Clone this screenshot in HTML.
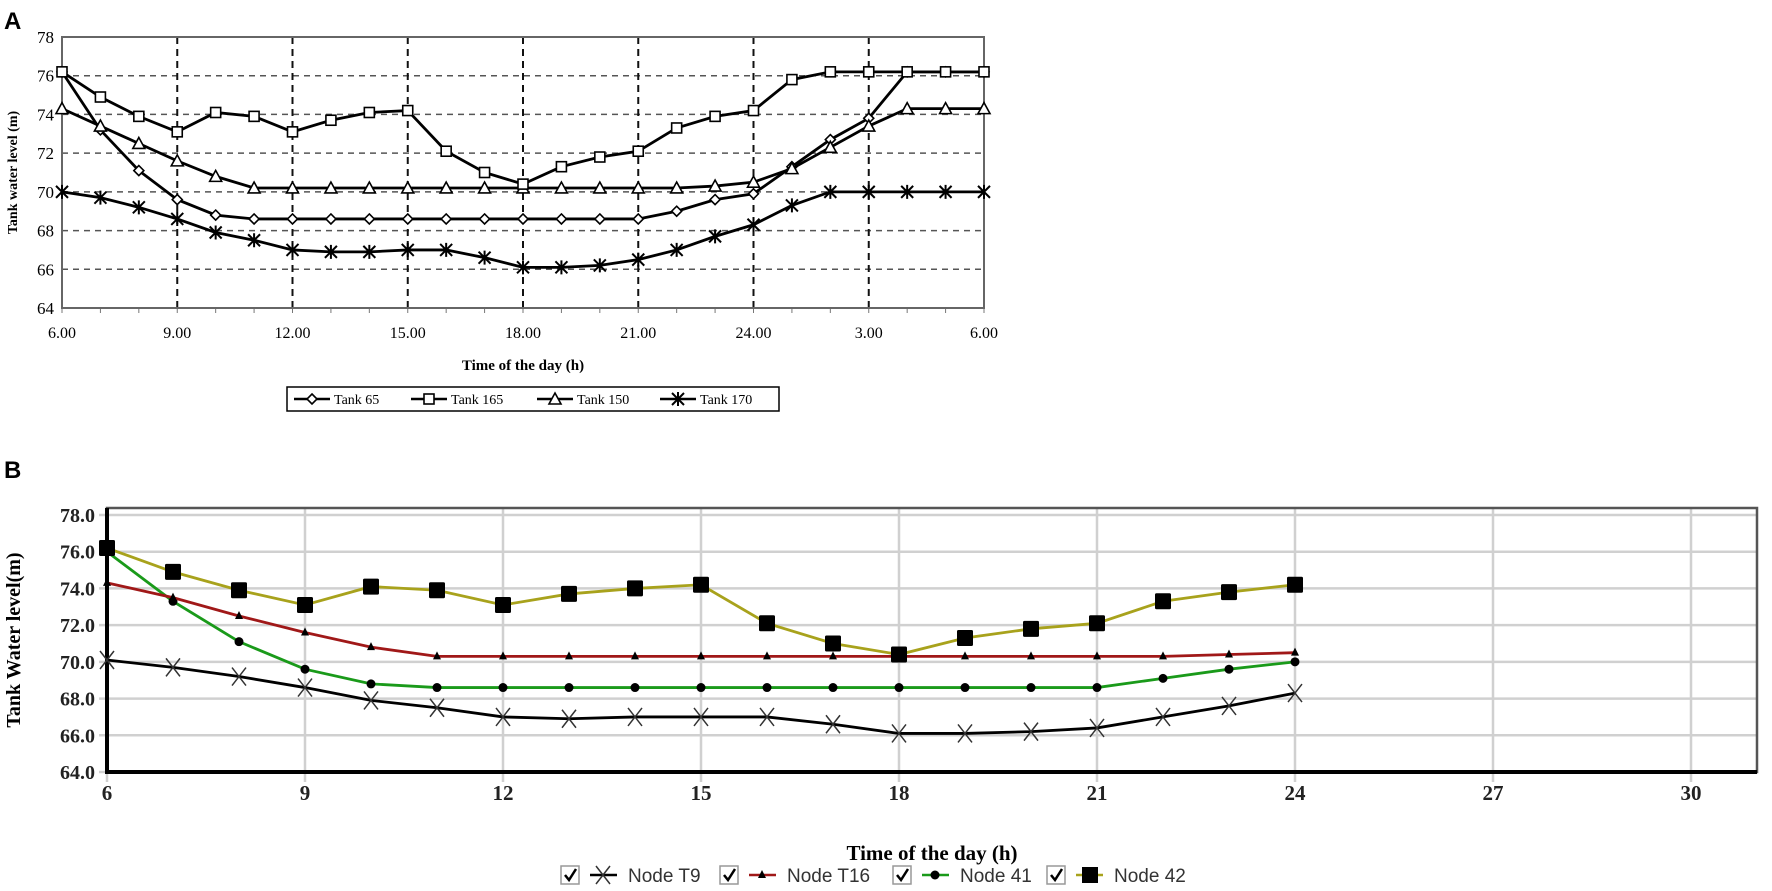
<!DOCTYPE html>
<html><head><meta charset="utf-8"><style>
html,body{margin:0;padding:0;background:#fff;}
svg{display:block;}
</style></head><body>
<svg id="root" width="1772" height="891" viewBox="0 0 1772 891" xmlns="http://www.w3.org/2000/svg">
<text x="4" y="29" font-family="Liberation Sans, sans-serif" font-weight="bold" font-size="24">A</text>
<text x="4" y="478" font-family="Liberation Sans, sans-serif" font-weight="bold" font-size="24">B</text>
<g id="chartA"></g>
<g id="chartB"></g>
</svg>
<script>
// ---------- Chart A data ----------
const hoursA = [6,7,8,9,10,11,12,13,14,15,16,17,18,19,20,21,22,23,24,25,26,27,28,29,30];
const tank65  = [76.2,73.2,71.1,69.6,68.8,68.6,68.6,68.6,68.6,68.6,68.6,68.6,68.6,68.6,68.6,68.6,69.0,69.6,69.9,71.3,72.7,73.8,76.2,76.2,76.2];
const tank165 = [76.2,74.9,73.9,73.1,74.1,73.9,73.1,73.7,74.1,74.2,72.1,71.0,70.4,71.3,71.8,72.1,73.3,73.9,74.2,75.8,76.2,76.2,76.2,76.2,76.2];
const tank150 = [74.3,73.4,72.5,71.6,70.8,70.2,70.2,70.2,70.2,70.2,70.2,70.2,70.2,70.2,70.2,70.2,70.2,70.3,70.5,71.2,72.3,73.4,74.3,74.3,74.3];
const tank170 = [70.0,69.7,69.2,68.6,67.9,67.5,67.0,66.9,66.9,67.0,67.0,66.6,66.1,66.1,66.2,66.5,67.0,67.7,68.3,69.3,70.0,70.0,70.0,70.0,70.0];
const ticksAx = [6,9,12,15,18,21,24,27,30];
const tickLabelsAx = ["6.00","9.00","12.00","15.00","18.00","21.00","24.00","3.00","6.00"];
const ticksAy = [64,66,68,70,72,74,76,78];
// ---------- Chart B data ----------
const hoursB = [6,7,8,9,10,11,12,13,14,15,16,17,18,19,20,21,22,23,24];
const node42  = [76.2,74.9,73.9,73.1,74.1,73.9,73.1,73.7,74.0,74.2,72.1,71.0,70.4,71.3,71.8,72.1,73.3,73.8,74.2];
const nodeT16 = [74.3,73.5,72.5,71.6,70.8,70.3,70.3,70.3,70.3,70.3,70.3,70.3,70.3,70.3,70.3,70.3,70.3,70.4,70.5];
const node41  = [76.0,73.3,71.1,69.6,68.8,68.6,68.6,68.6,68.6,68.6,68.6,68.6,68.6,68.6,68.6,68.6,69.1,69.6,70.0];
const nodeT9  = [70.1,69.7,69.2,68.6,67.9,67.5,67.0,66.9,67.0,67.0,67.0,66.6,66.1,66.1,66.2,66.4,67.0,67.6,68.3];
const ticksBx = [6,9,12,15,18,21,24,27,30];
const ticksBy = [64,66,68,70,72,74,76,78];

const NS="http://www.w3.org/2000/svg";
function mk(parent,tag,attrs){const e=document.createElementNS(NS,tag);for(const k in attrs)e.setAttribute(k,attrs[k]);parent.appendChild(e);return e;}

// ===== Chart A =====
const gA=document.getElementById('chartA');
const ax={x0:62,x1:984,y0:308,y1:37,min:64,max:78,h0:6,h1:30};
const xA=h=>ax.x0+(h-ax.h0)/(ax.h1-ax.h0)*(ax.x1-ax.x0);
const yA=v=>ax.y0-(v-ax.min)/(ax.max-ax.min)*(ax.y0-ax.y1);
ticksAy.forEach(v=>{
  if(v>64&&v<78){const l=mk(gA,'line',{x1:ax.x0,x2:ax.x1,y1:yA(v),y2:yA(v),stroke:'#555','stroke-width':1.5,'stroke-dasharray':'6,5'});
  
  }
  const t=mk(gA,'text',{x:ax.x0-8,y:yA(v)+6,'text-anchor':'end','font-family':'Liberation Serif, serif','font-size':17});
  t.textContent=v;
  
  
});
ticksAx.forEach((h,i)=>{
  if(i>0&&i<ticksAx.length-1){const l=mk(gA,'line',{x1:xA(h),x2:xA(h),y1:ax.y1,y2:ax.y0,stroke:'#111','stroke-width':2,'stroke-dasharray':'7,5'});
  
  }
  const t=mk(gA,'text',{x:xA(h),y:338,'text-anchor':'middle','font-family':'Liberation Serif, serif','font-size':16});
  t.textContent=tickLabelsAx[i];
  
  
});
hoursA.forEach(h=>{const l=mk(gA,'line',{x1:xA(h),x2:xA(h),y1:ax.y0,y2:ax.y0+5,stroke:'#777','stroke-width':1});

});
const frA=mk(gA,'rect',{x:ax.x0,y:ax.y1,width:ax.x1-ax.x0,height:ax.y0-ax.y1,fill:'none',stroke:'#666','stroke-width':2});


const ytA=mk(gA,'text',{x:0,y:0,transform:`translate(17,${(ax.y0+ax.y1)/2}) rotate(-90)`,'text-anchor':'middle','font-family':'Liberation Serif, serif','font-weight':'bold','font-size':14});
ytA.textContent='Tank water level (m)';


const xtA=mk(gA,'text',{x:(ax.x0+ax.x1)/2,y:370,'text-anchor':'middle','font-family':'Liberation Serif, serif','font-weight':'bold','font-size':15});
xtA.textContent='Time of the day (h)';



function markerA(g,type,x,y){
  const st={fill:'#fff',stroke:'#000','stroke-width':1.6};
  if(type==='diamond') mk(g,'polygon',Object.assign({points:`${x},${y-5} ${x+5},${y} ${x},${y+5} ${x-5},${y}`},st));
  else if(type==='square') mk(g,'rect',Object.assign({x:x-5,y:y-5,width:10,height:10},st));
  else if(type==='triangle') mk(g,'polygon',Object.assign({points:`${x},${y-6} ${x+6},${y+5} ${x-6},${y+5}`},st));
  else { mk(g,'path',{d:`M${x-6},${y-6}L${x+6},${y+6}M${x-6},${y+6}L${x+6},${y-6}M${x},${y-7}L${x},${y+7}`,stroke:'#000','stroke-width':2}); }
}
const seriesA=[[tank170,'star','tank-170'],[tank65,'diamond','tank-65'],[tank150,'triangle','tank-150'],[tank165,'square','tank-165']];
seriesA.forEach(([vals,m,name])=>{
  const g=mk(gA,'g',{});
  
  
  const p=mk(g,'polyline',{points:hoursA.map((h,i)=>xA(h)+','+yA(vals[i])).join(' '),fill:'none',stroke:'#000','stroke-width':2.8});
  
  
  hoursA.forEach((h,i)=>markerA(g,m,xA(h),yA(vals[i])));
});
// legend A
const lgA=mk(gA,'g',{});


mk(lgA,'rect',{x:287,y:387,width:492,height:24,fill:'#fff',stroke:'#000','stroke-width':1.5});
const legA=[['diamond','Tank 65',294],['square','Tank 165',411],['triangle','Tank 150',537],['star','Tank 170',660]];
legA.forEach(([m,lab,x])=>{
  const g=mk(lgA,'g',{});
  
  
  mk(g,'line',{x1:x,x2:x+36,y1:399,y2:399,stroke:'#000','stroke-width':2.5});
  markerA(g,m,x+18,399);
  const t=mk(g,'text',{x:x+40,y:404,'font-family':'Liberation Serif, serif','font-size':14});t.textContent=lab;
});

// ===== Chart B =====
const gB=document.getElementById('chartB');
const bx={x0:107,x1:1691,xr:1757,y0:772,y1:515,yt:508,min:64,max:78,h0:6,h1:30};
const xB=h=>bx.x0+(h-bx.h0)/(bx.h1-bx.h0)*(bx.x1-bx.x0);
const yB=v=>bx.y0-(v-bx.min)/(bx.max-bx.min)*(bx.y0-bx.y1);
ticksBy.forEach(v=>{
  const l=mk(gB,'line',{x1:bx.x0-8,x2:bx.xr,y1:yB(v),y2:yB(v),stroke:'#d0d0d0','stroke-width':2.5});
  
  
  const t=mk(gB,'text',{x:bx.x0-12,y:yB(v)+7,'text-anchor':'end','font-family':'Liberation Serif, serif','font-weight':'bold','font-size':20,fill:'#222'});
  t.textContent=v.toFixed(1);
  
  
});
ticksBx.forEach(h=>{
  const l=mk(gB,'line',{x1:xB(h),x2:xB(h),y1:bx.yt,y2:bx.y0+10,stroke:'#d0d0d0','stroke-width':2.5});
  
  
  const t=mk(gB,'text',{x:xB(h),y:800,'text-anchor':'middle','font-family':'Liberation Serif, serif','font-weight':'bold','font-size':21,fill:'#222'});
  t.textContent=h;
  
  
});
const frB=mk(gB,'rect',{x:bx.x0,y:bx.yt,width:bx.xr-bx.x0,height:bx.y0-bx.yt,fill:'none',stroke:'#555','stroke-width':2.5});


mk(gB,'line',{x1:bx.x0,x2:bx.x0,y1:bx.yt,y2:bx.y0+2,stroke:'#000','stroke-width':4});
mk(gB,'line',{x1:bx.x0,x2:bx.xr,y1:bx.y0,y2:bx.y0,stroke:'#000','stroke-width':4});
const ytB=mk(gB,'text',{x:0,y:0,transform:`translate(20,${(bx.y0+bx.yt)/2}) rotate(-90)`,'text-anchor':'middle','font-family':'Liberation Serif, serif','font-weight':'bold','font-size':20});
ytB.textContent='Tank Water level(m)';


const xtB=mk(gB,'text',{x:932,y:860,'text-anchor':'middle','font-family':'Liberation Serif, serif','font-weight':'bold','font-size':21});
xtB.textContent='Time of the day (h)';



function markerB(g,type,x,y,c){
  if(type==='square') mk(g,'rect',{x:x-8,y:y-8,width:16,height:16,fill:'#000',rx:1.5});
  else if(type==='tri') mk(g,'polygon',{points:`${x},${y-5} ${x+4},${y+3} ${x-4},${y+3}`,fill:'#000'});
  else if(type==='dot') mk(g,'circle',{cx:x,cy:y,r:4.5,fill:'#000'});
  else mk(g,'path',{d:`M${x-7},${y-9}L${x+7},${y+9}M${x-7},${y+9}L${x+7},${y-9}`,stroke:'#333','stroke-width':1.5});
}
const seriesB=[[nodeT9,'x','#000','node-t9'],[node41,'dot','#1a9a1a','node-41'],[nodeT16,'tri','#a01818','node-t16'],[node42,'square','#a8a21c','node-42']];
seriesB.forEach(([vals,m,c,name])=>{
  const g=mk(gB,'g',{});
  
  
  const p=mk(g,'polyline',{points:hoursB.map((h,i)=>xB(h)+','+yB(vals[i])).join(' '),fill:'none',stroke:c,'stroke-width':2.8});
  
  
  hoursB.forEach((h,i)=>markerB(g,m,xB(h),yB(vals[i]),c));
});
// legend B
const legB=[['x','#000','Node T9',561],['tri','#a01818','Node T16',720],['dot','#1a9a1a','Node 41',893],['square','#a8a21c','Node 42',1047]];
legB.forEach(([m,c,lab,x])=>{
  const g=mk(gB,'g',{});
  
  
  mk(g,'rect',{x:x,y:866,width:18,height:18,fill:'#fff',stroke:'#999','stroke-width':1.5});
  mk(g,'path',{d:`M${x+4},${875}L${x+8},${880}L${x+15},${869}`,fill:'none',stroke:'#000','stroke-width':2.5});
  mk(g,'line',{x1:x+29,x2:x+56,y1:875,y2:875,stroke:c,'stroke-width':2.5});
  if(m==='square') mk(g,'rect',{x:x+35,y:867,width:16,height:16,fill:'#000'});
  else markerB(g,m,x+42,875,c);
  const t=mk(g,'text',{x:x+67,y:882,'font-family':'Liberation Sans, sans-serif','font-size':19,fill:'#333'});t.textContent=lab;
});
</script>
</body></html>
